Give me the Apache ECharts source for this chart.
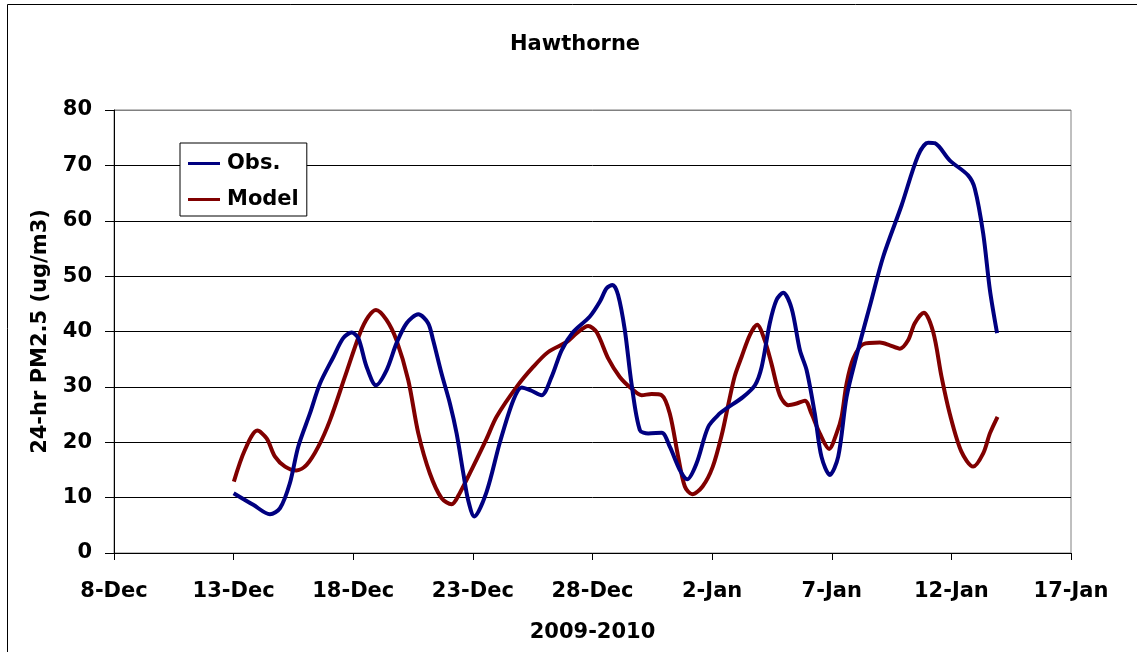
<!DOCTYPE html>
<html>
<head>
<meta charset="utf-8">
<script src="https://cdn.jsdelivr.net/npm/echarts@6/dist/echarts.min.js"></script>
<style>
html,body{margin:0;padding:0;background:#fff;}
#chart{width:1137px;height:652px;}
</style>
</head>
<body>
<div id="chart"></div>
<script>
// x values are days after 8-Dec-2009
const tickLabels = ['8-Dec','13-Dec','18-Dec','23-Dec','28-Dec','2-Jan','7-Jan','12-Jan','17-Jan'];

const obsDays = [5.0,5.82,6.52,6.94,7.35,7.7,8.19,8.61,9.17,9.58,9.93,10.21,10.56,10.95,11.39,11.81,12.23,12.72,13.13,13.34,13.69,14.04,14.32,14.6,14.8,15.06,15.57,16.13,16.69,17.04,17.45,17.87,18.29,18.71,19.19,19.89,20.31,20.59,20.84,21.07,21.35,21.63,21.98,22.33,22.89,23.23,23.65,23.96,24.35,24.84,25.32,25.6,26.3,26.79,27.07,27.41,27.69,27.97,28.32,28.67,28.95,29.29,29.57,29.92,30.27,30.62,31.04,31.63,32.15,32.92,33.61,34.03,34.31,34.93,35.7,35.98,36.33,36.61,36.91];
const obsValues = [10.8,8.7,7.0,8.1,12.6,19.2,25.2,30.6,35.4,38.8,39.8,38.8,33.6,30.3,33.0,37.9,41.5,43.1,41.5,38.4,32.4,27.0,21.6,14.4,9.6,6.6,11.0,20.0,27.6,29.9,29.3,28.5,31.8,36.6,39.9,42.7,45.4,47.8,48.4,46.6,40.3,30.6,22.2,21.6,21.7,19.2,15.0,13.3,16.2,22.8,25.2,26.1,28.2,30.3,33.6,41.5,45.7,47.0,44.2,36.6,33.0,25.2,17.4,14.1,17.4,28.2,35.7,45.2,53.5,62.8,71.8,74.1,74.0,70.9,68.2,65.8,57.7,47.5,39.7];

const modelDays = [5.01,5.47,5.99,6.38,6.73,7.15,7.63,8.05,8.54,9.03,9.65,10.28,10.63,10.95,11.39,11.81,12.3,12.72,13.2,13.69,14.11,14.46,15.01,15.57,15.99,16.83,17.52,18.15,18.92,19.34,19.82,20.17,20.66,21.14,21.63,22.05,22.47,22.89,23.23,23.58,23.86,24.17,24.6,25.02,25.4,25.7,25.95,26.23,26.58,26.88,27.2,27.48,27.83,28.18,28.53,28.88,29.15,29.5,29.89,30.2,30.41,30.62,30.9,31.31,32.01,32.43,32.85,33.19,33.47,33.85,34.24,34.59,34.93,35.42,35.91,36.33,36.61,36.93];
const modelValues = [12.9,18.6,22.1,20.7,17.4,15.6,14.9,15.9,19.2,24.0,31.8,39.7,42.7,43.9,42.1,38.4,31.2,21.6,14.4,9.9,8.8,10.9,15.6,20.6,24.6,30.0,33.6,36.3,38.1,39.7,41.0,39.9,35.1,31.8,29.7,28.5,28.7,28.5,25.2,17.4,12.0,10.6,12.0,15.5,21.3,27.3,32.0,35.4,39.4,41.2,38.4,34.2,28.5,26.7,27.0,27.5,25.2,21.6,18.8,21.6,24.6,30.6,35.1,37.7,38.0,37.5,36.9,38.4,41.5,43.4,39.9,31.8,25.2,18.3,15.6,18.0,21.6,24.6];

const pair = (xs, ys) => xs.map((x, i) => [x, ys[i]]);
const FONT = 'DejaVu Sans';

const chart = echarts.init(document.getElementById('chart'), null, {renderer: 'canvas'});
chart.setOption({
  animation: false,
  backgroundColor: '#ffffff',
  title: {
    text: 'Hawthorne',
    left: 505,
    top: 29,
    textStyle: {fontFamily: FONT, fontWeight: 'bold', fontSize: 21, color: '#000'}
  },
  legend: {
    orient: 'vertical',
    left: 180,
    top: 143,
    padding: [10, 8, 6, 8],
    itemGap: 15,
    itemWidth: 32,
    itemHeight: 3,
    icon: 'rect',
    backgroundColor: '#fff',
    borderColor: '#000',
    borderWidth: 1,
    borderRadius: 0,
    textStyle: {fontFamily: FONT, fontWeight: 'bold', fontSize: 21, color: '#000', padding: [0, 0, 0, 2]},
    data: ['Obs.', 'Model']
  },
  grid: {
    left: 114, right: 66, top: 110, bottom: 99,
    show: true, borderColor: '#808080', borderWidth: 1, backgroundColor: 'transparent'
  },
  xAxis: {
    type: 'value',
    min: 0, max: 40, interval: 5,
    name: '2009-2010',
    nameLocation: 'middle',
    nameGap: 69,
    nameTextStyle: {fontFamily: FONT, fontWeight: 'bold', fontSize: 21, color: '#000'},
    axisLine: {show: true, lineStyle: {color: '#000', width: 1}},
    axisTick: {show: true, inside: false, length: 7, lineStyle: {color: '#000'}},
    splitLine: {show: false},
    axisLabel: {
      margin: 28,
      fontFamily: FONT, fontWeight: 'bold', fontSize: 21, color: '#000',
      formatter: v => tickLabels[Math.round(v / 5)]
    }
  },
  yAxis: {
    type: 'value',
    min: 0, max: 80, interval: 10,
    name: '24-hr PM2.5 (ug/m3)',
    nameLocation: 'middle',
    nameRotate: 90,
    nameGap: 63,
    nameTextStyle: {fontFamily: FONT, fontWeight: 'bold', fontSize: 21, color: '#000'},
    axisLine: {show: true, lineStyle: {color: '#000', width: 1}},
    axisTick: {show: true, inside: false, length: 9, lineStyle: {color: '#000'}},
    splitLine: {show: true, lineStyle: {color: ['#000','#000','#000','#000','#000','#000','#000','#000','#808080'], width: 1}},
    axisLabel: {margin: 22, fontFamily: FONT, fontWeight: 'bold', fontSize: 21, color: '#000'}
  },
  graphic: [{
    type: 'rect',
    silent: true,
    shape: {x: 7.5, y: 4.5, width: 1300, height: 800},
    style: {fill: 'none', stroke: '#000', lineWidth: 1}
  }],
  series: [
    {
      name: 'Obs.',
      type: 'line',
      data: pair(obsDays, obsValues),
      smooth: 0.3,
      symbol: 'none',
      lineStyle: {color: '#000080', width: 4},
      itemStyle: {color: '#000080'},
      z: 3
    },
    {
      name: 'Model',
      type: 'line',
      data: pair(modelDays, modelValues),
      smooth: 0.3,
      symbol: 'none',
      lineStyle: {color: '#800000', width: 4},
      itemStyle: {color: '#800000'},
      z: 2
    }
  ]
});
</script>
</body>
</html>
